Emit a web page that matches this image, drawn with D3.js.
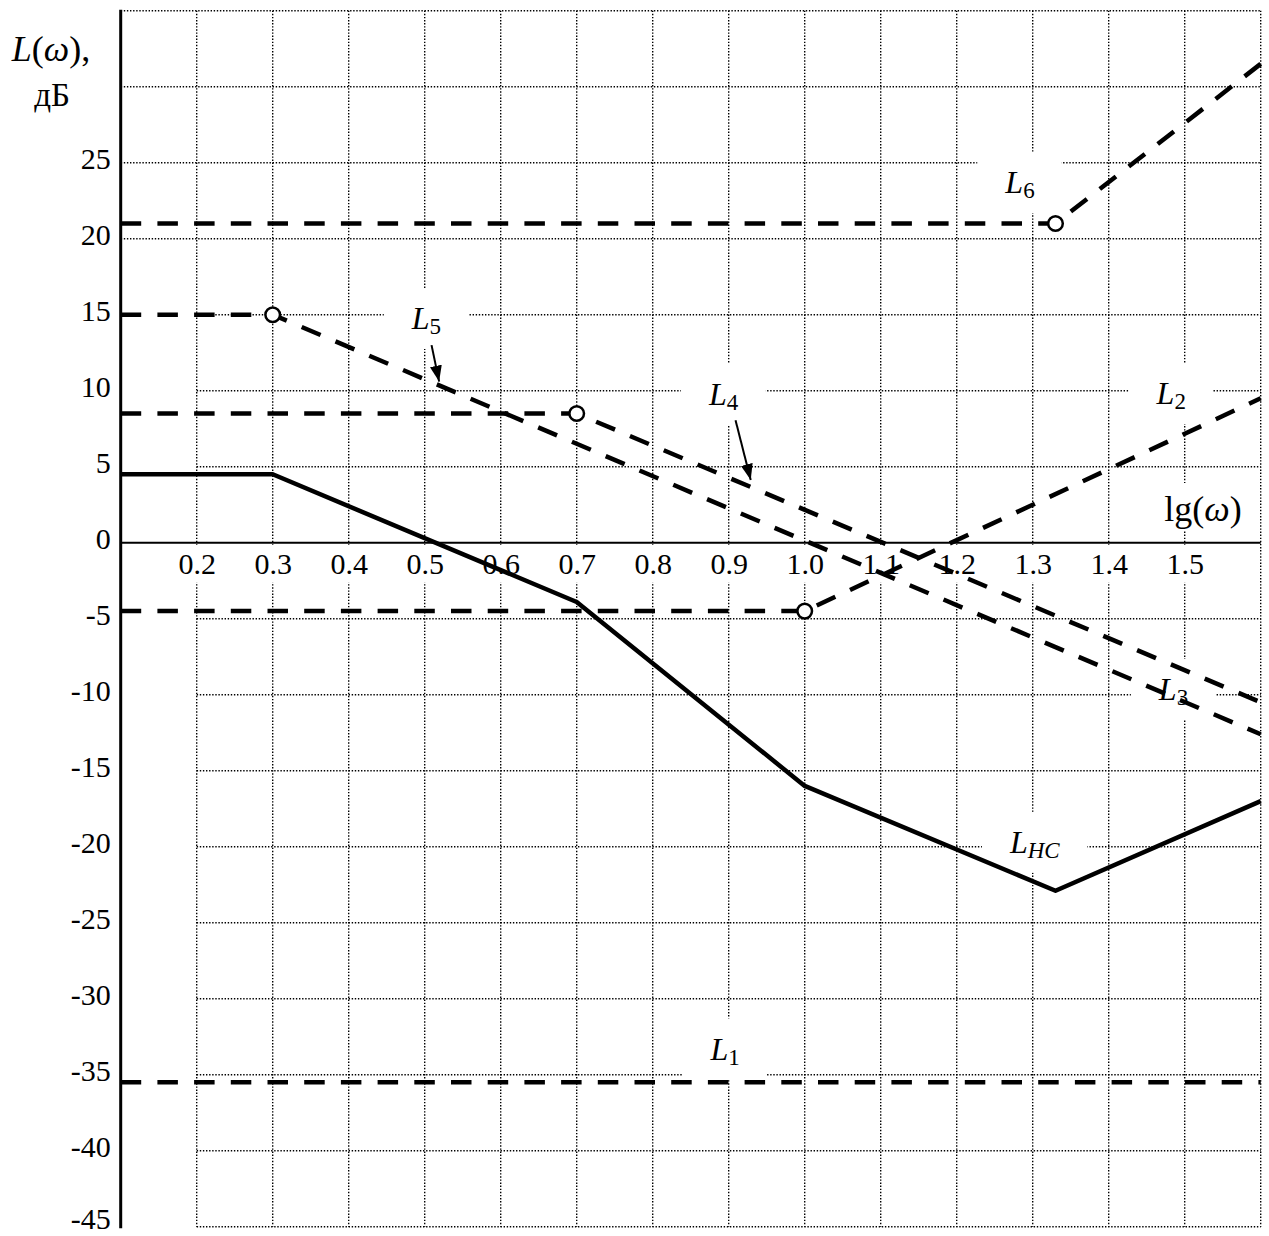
<!DOCTYPE html>
<html>
<head>
<meta charset="utf-8">
<script src="https://cdn.jsdelivr.net/npm/d3@7"></script>
<style>
  html, body { margin: 0; padding: 0; background: #fff; }
  svg { display: block; }
  text { font-family: "Liberation Serif", "Times New Roman", serif; fill: #000; }
</style>
</head>
<body>
<svg id="chart" width="1269" height="1236"></svg>
<script>
// Axis ticks
const xTicks = [0.2, 0.3, 0.4, 0.5, 0.6, 0.7, 0.8, 0.9, 1.0, 1.1, 1.2, 1.3, 1.4, 1.5];
const xGrid = [0.2, 0.3, 0.4, 0.5, 0.6, 0.7, 0.8, 0.9, 1.0, 1.1, 1.2, 1.3, 1.4, 1.5, 1.6];
const yTicks = [25, 20, 15, 10, 5, 0, -5, -10, -15, -20, -25, -30, -35, -40, -45];
const yGrid = [35, 30, 25, 20, 15, 10, 5, -5, -10, -15, -20, -25, -30, -35, -40, -45];

// Asymptotic LAFC segments: lg(ω) breakpoints and L in dB
const lgHC = [0.1, 0.3, 0.7, 1.0, 1.33, 1.6];
const valHC = [4.5, 4.5, -3.9, -16, -22.9, -17];
const lg1 = [0.1, 1.6];
const val1 = [-35.5, -35.5];
const lg2 = [0.1, 1.0, 1.6];
const val2 = [-4.5, -4.5, 9.5];
const lg4 = [0.1, 0.7, 1.6];
const val4 = [8.5, 8.5, -10.5];
const lg5 = [0.1, 0.3, 1.6];
const val5 = [15, 15, -12.6];
const lg6 = [0.1, 1.33, 1.6];
const val6 = [21, 21, 31.5];

// Corner-frequency markers (open circles)
const cornerLg = [0.3, 0.7, 1.0, 1.33];
const cornerVal = [15, 8.5, -4.5, 21];

// Curve labels: name, subscript, position (lg, dB) of the text start / baseline
const labelMain = ["L", "L", "L", "L", "L", "L", "L"];
const labelSub = ["6", "5", "4", "3", "2", "HC", "1"];
const labelLg = [1.264, 0.483, 0.874, 1.466, 1.463, 1.27, 0.876];
const labelVal = [23.0, 14.06, 9.06, -10.35, 9.12, -20.4, -34.0];

// Pointer arrows (from lg, dB to lg, dB)
const arrowFromLg = [0.509, 0.909];
const arrowFromVal = [13.0, 8.06];
const arrowToLg = [0.519, 0.929];
const arrowToVal = [10.6, 4.13];

const svg = d3.select("#chart");

const x = d3.scaleLinear().domain([0.1, 1.6]).range([120.7, 1260.7]);
const y = d3.scaleLinear().domain([-45, 35]).range([1226.7, 10.7]);

const FONT = "'Liberation Serif', 'Times New Roman', serif";

const defs = svg.append("defs");
defs.append("marker")
  .attr("id", "arrowhead")
  .attr("viewBox", "0 0 16 12")
  .attr("refX", 16).attr("refY", 6)
  .attr("markerWidth", 16).attr("markerHeight", 12)
  .attr("markerUnits", "userSpaceOnUse")
  .attr("orient", "auto")
  .append("path").attr("d", "M0,0 L16,6 L0,12 Z").attr("fill", "#000");

// Dotted grid
const grid = svg.append("g").attr("class", "grid")
  .attr("stroke", "#000").attr("stroke-width", 1.4).attr("stroke-dasharray", "1.4,1.7");
grid.selectAll("line.h").data(yGrid).join("line")
  .attr("class", "h")
  .attr("x1", d => d >= 20 ? x(0.1) : x(0.2))
  .attr("x2", x(1.6))
  .attr("y1", d => y(d)).attr("y2", d => y(d));
grid.selectAll("line.v").data(xGrid).join("line")
  .attr("class", "v")
  .attr("x1", d => x(d)).attr("x2", d => x(d))
  .attr("y1", y(35)).attr("y2", y(-45));

// Label backgrounds that interrupt the grid
const bgLayer = svg.append("g");
const textLayer = svg.append("g");

// Axes with tick labels
const yAxis = d3.axisLeft(y).tickValues(yTicks).tickSize(0).tickPadding(10)
  .tickFormat(d => String(d));
const gy = textLayer.append("g").attr("transform", `translate(${x(0.1)},0)`).call(yAxis);
gy.select(".domain").remove();
gy.selectAll("text").attr("font-size", 30)
  .attr("dy", d => d === -45 ? "0.06em" : "0.2em")
  .style("font-family", FONT);

const xAxis = d3.axisBottom(x).tickValues(xTicks).tickSize(0).tickPadding(10)
  .tickFormat(d3.format(".1f"));
const gx = textLayer.append("g").attr("transform", `translate(0,${y(0)})`).call(xAxis);
gx.select(".domain").remove();
gx.selectAll("text").attr("font-size", 30).style("font-family", FONT);

// White boxes behind x tick labels
xTicks.forEach(t => {
  bgLayer.append("rect")
    .attr("x", x(t) - 22).attr("y", y(0) + 2)
    .attr("width", 44).attr("height", 38).attr("fill", "#fff");
});

// Axis titles
const yTitle = textLayer.append("text").attr("x", 51).attr("y", 61)
  .attr("text-anchor", "middle").attr("font-size", 36);
yTitle.append("tspan").attr("font-style", "italic").text("L");
yTitle.append("tspan").text("(");
yTitle.append("tspan").attr("font-style", "italic").text("ω");
yTitle.append("tspan").text("),");
textLayer.append("text").attr("x", 52).attr("y", 106)
  .attr("text-anchor", "middle").attr("font-size", 33).text("дБ");

const xTitle = textLayer.append("text").attr("x", 1203).attr("y", 521)
  .attr("text-anchor", "middle").attr("font-size", 36);
xTitle.append("tspan").text("lg(");
xTitle.append("tspan").attr("font-style", "italic").text("ω");
xTitle.append("tspan").text(")");
{
  const b = xTitle.node().getBBox();
  bgLayer.append("rect").attr("x", b.x - 12).attr("y", b.y - 6)
    .attr("width", b.width + 24).attr("height", b.height + 8).attr("fill", "#fff");
}

// Curve labels
labelMain.forEach((m, i) => {
  const t = textLayer.append("text")
    .attr("x", x(labelLg[i])).attr("y", y(labelVal[i]))
    .attr("font-size", 32);
  t.append("tspan").attr("font-style", "italic").text(m);
  t.append("tspan").attr("dy", 5)
    .attr("font-size", 23)
    .attr("font-style", labelSub[i] === "HC" ? "italic" : "normal")
    .text(labelSub[i]);
  const b = t.node().getBBox();
  bgLayer.append("rect")
    .attr("x", b.x - 27).attr("y", b.y - 12)
    .attr("width", b.width + 54).attr("height", b.height + 22)
    .attr("fill", "#fff");
});

// Coordinate axes
svg.append("line")
  .attr("x1", x(0.1)).attr("x2", x(0.1)).attr("y1", y(35) - 1).attr("y2", y(-45) + 1.5)
  .attr("stroke", "#000").attr("stroke-width", 3);
svg.append("line")
  .attr("x1", x(0.1)).attr("x2", x(1.6)).attr("y1", y(0)).attr("y2", y(0))
  .attr("stroke", "#000").attr("stroke-width", 2);

// Asymptote curves
const line = d3.line().x(d => x(d[0])).y(d => y(d[1]));
const zip = (a, b) => a.map((v, i) => [v, b[i]]);

const dashed = [zip(lg1, val1), zip(lg2, val2), zip(lg4, val4), zip(lg5, val5), zip(lg6, val6)];
svg.append("g").selectAll("path").data(dashed).join("path")
  .attr("d", line)
  .attr("fill", "none").attr("stroke", "#000")
  .attr("stroke-width", 4.5).attr("stroke-dasharray", "20.5,16.2");

svg.append("path").datum(zip(lgHC, valHC))
  .attr("d", line)
  .attr("fill", "none").attr("stroke", "#000")
  .attr("stroke-width", 4.5).attr("stroke-linejoin", "round");

// Arrows pointing to curves
svg.append("g").selectAll("line").data(arrowFromLg).join("line")
  .attr("x1", (d, i) => x(arrowFromLg[i])).attr("y1", (d, i) => y(arrowFromVal[i]))
  .attr("x2", (d, i) => x(arrowToLg[i])).attr("y2", (d, i) => y(arrowToVal[i]))
  .attr("stroke", "#000").attr("stroke-width", 2)
  .attr("marker-end", "url(#arrowhead)");

// Corner markers
svg.append("g").selectAll("circle").data(cornerLg).join("circle")
  .attr("cx", d => x(d)).attr("cy", (d, i) => y(cornerVal[i]))
  .attr("r", 7.3).attr("fill", "#fff").attr("stroke", "#000").attr("stroke-width", 2.5);
</script>
</body>
</html>
